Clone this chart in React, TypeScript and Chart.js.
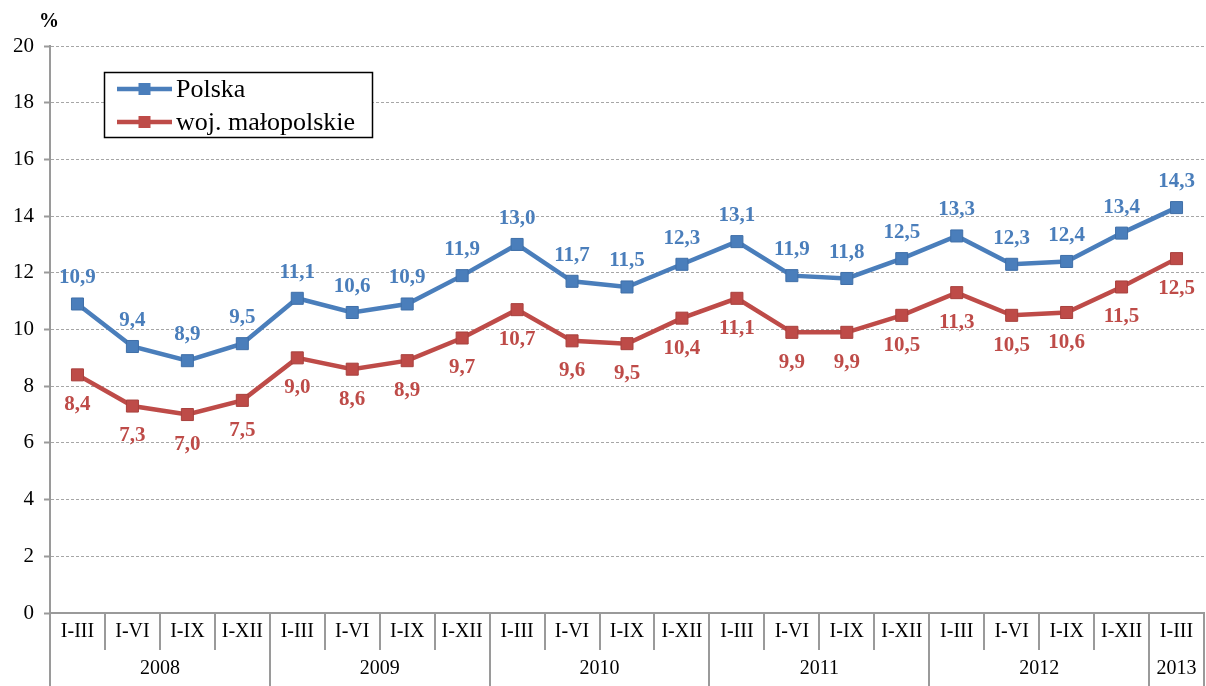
import React, { useEffect, useRef } from "react";
import { Chart, registerables } from "chart.js";

Chart.register(...registerables);

const quarters = [
  "I-III", "I-VI", "I-IX", "I-XII",
  "I-III", "I-VI", "I-IX", "I-XII",
  "I-III", "I-VI", "I-IX", "I-XII",
  "I-III", "I-VI", "I-IX", "I-XII",
  "I-III", "I-VI", "I-IX", "I-XII",
  "I-III",
];
const years = ["2008", "2009", "2010", "2011", "2012", "2013"];
const quartersPerYear = [4, 4, 4, 4, 4, 1];

const polska = [10.9, 9.4, 8.9, 9.5, 11.1, 10.6, 10.9, 11.9, 13.0, 11.7, 11.5, 12.3, 13.1, 11.9, 11.8, 12.5, 13.3, 12.3, 12.4, 13.4, 14.3];
const malopolskie = [8.4, 7.3, 7.0, 7.5, 9.0, 8.6, 8.9, 9.7, 10.7, 9.6, 9.5, 10.4, 11.1, 9.9, 9.9, 10.5, 11.3, 10.5, 10.6, 11.5, 12.5];

const seriesNames = ["Polska", "woj. małopolskie"];
const BLUE = "#4a7ebb";
const RED = "#be4b48";
const SERIF = "'Liberation Serif', 'Times New Roman', serif";

const fmt = (v: number) => v.toFixed(1).replace(".", ",");

const overlayPlugin = {
  id: "overlay",
  afterDatasetsDraw(chart: any) {
    const ctx = chart.ctx;
    const offsets = [-26, 30];
    chart.data.datasets.forEach((ds: any, di: number) => {
      const meta = chart.getDatasetMeta(di);
      ctx.save();
      ctx.font = `bold 21px ${SERIF}`;
      ctx.fillStyle = ds.borderColor;
      ctx.textAlign = "center";
      ctx.textBaseline = "middle";
      meta.data.forEach((pt: any, i: number) => {
        ctx.fillText(fmt(ds.data[i]), pt.x, pt.y + offsets[di]);
      });
      ctx.restore();
    });
  },
  afterDraw(chart: any) {
    const ctx = chart.ctx;
    const xs = chart.scales.x;
    const area = chart.chartArea;
    const n = quarters.length;
    const w = (area.right - area.left) / n;
    const bottom = chart.height;
    ctx.save();
    ctx.strokeStyle = "#9a9a9a";
    ctx.lineWidth = 2;
    const yearBounds = new Set<number>();
    let acc = 0;
    yearBounds.add(0);
    quartersPerYear.forEach((q) => { acc += q; yearBounds.add(acc); });
    for (let i = 0; i <= n; i++) {
      const x = Math.round(area.left + i * w);
      const yEnd = yearBounds.has(i) ? bottom : area.bottom + 37;
      ctx.beginPath();
      ctx.moveTo(x, area.bottom);
      ctx.lineTo(x, yEnd);
      ctx.stroke();
    }
    ctx.fillStyle = "#000";
    ctx.font = `20px ${SERIF}`;
    ctx.textAlign = "center";
    ctx.textBaseline = "middle";
    quarters.forEach((q, i) => {
      ctx.fillText(q, xs.getPixelForValue(i), area.bottom + 19);
    });
    let start = 0;
    years.forEach((y, yi) => {
      const cnt = quartersPerYear[yi];
      const x0 = area.left + start * w;
      const x1 = area.left + (start + cnt) * w;
      ctx.fillText(y, (x0 + x1) / 2, area.bottom + 56);
      start += cnt;
    });
    ctx.font = `bold 20px ${SERIF}`;
    ctx.textAlign = "left";
    ctx.fillText("%", 39, 22);
    const lx = 104.5, ly = 72.5, lw = 268, lh = 65;
    ctx.fillStyle = "#fff";
    ctx.fillRect(lx, ly, lw, lh);
    ctx.strokeStyle = "#000";
    ctx.lineWidth = 1.5;
    ctx.strokeRect(lx, ly, lw, lh);
    const rows = [89, 122];
    chart.data.datasets.forEach((ds: any, di: number) => {
      const yy = rows[di];
      ctx.strokeStyle = ds.borderColor;
      ctx.lineWidth = 4.5;
      ctx.beginPath();
      ctx.moveTo(117, yy);
      ctx.lineTo(172, yy);
      ctx.stroke();
      ctx.fillStyle = ds.borderColor;
      ctx.fillRect(144.5 - 6, yy - 6, 12, 12);
      ctx.fillStyle = "#000";
      ctx.font = `26px ${SERIF}`;
      ctx.textAlign = "left";
      ctx.textBaseline = "middle";
      ctx.fillText(seriesNames[di], 176, yy + 1);
    });
    ctx.restore();
  },
};

export default function App() {
  const ref = useRef<HTMLCanvasElement | null>(null);
  useEffect(() => {
    document.body.style.margin = "0";
    const canvas = ref.current!;
    const mk = (label: string, data: number[], color: string, border: string) => ({
      label,
      data,
      borderColor: color,
      backgroundColor: color,
      borderWidth: 4.5,
      pointStyle: "rect",
      pointRadius: 8.5,
      pointHoverRadius: 8.5,
      pointBackgroundColor: color,
      pointBorderColor: border,
      pointBorderWidth: 1,
      tension: 0,
      clip: false,
    });
    const chart = new Chart(canvas, {
      type: "line",
      data: {
        labels: quarters,
        datasets: [
          mk(seriesNames[0], polska, BLUE, "#3f6fa8"),
          mk(seriesNames[1], malopolskie, RED, "#a8403d"),
        ],
      },
      options: {
        responsive: false,
        animation: false,
        devicePixelRatio: 1,
        layout: { autoPadding: false, padding: { top: 46, right: 2, left: 0, bottom: 0 } },
        plugins: { legend: { display: false }, tooltip: { enabled: false } },
        scales: {
          x: {
            type: "category",
            offset: true,
            grid: { display: false },
            ticks: { display: false, font: { size: 1 } },
            border: { display: true, color: "#9a9a9a", width: 2 },
            afterFit: (s: any) => { s.height = 73; },
          },
          y: {
            min: 0,
            max: 20,
            ticks: {
              stepSize: 2,
              color: "#000",
              font: { family: SERIF, size: 21 },
              padding: 10,
            },
            grid: {
              color: "#a6a6a6",
              lineWidth: 1,
              tickLength: 6,
              tickColor: "#9a9a9a",
              tickWidth: 2,
            },
            border: { display: true, color: "#9a9a9a", width: 2, dash: [3, 2] },
            afterFit: (s: any) => { s.width = 50; },
          },
        },
      },
      plugins: [overlayPlugin],
    } as any);
    return () => chart.destroy();
  }, []);
  return (
    <div style={{ position: "absolute", left: 0, top: 0 }}>
      <canvas ref={ref} width={1206} height={686} style={{ display: "block", width: 1206, height: 686 }} />
    </div>
  );
}
